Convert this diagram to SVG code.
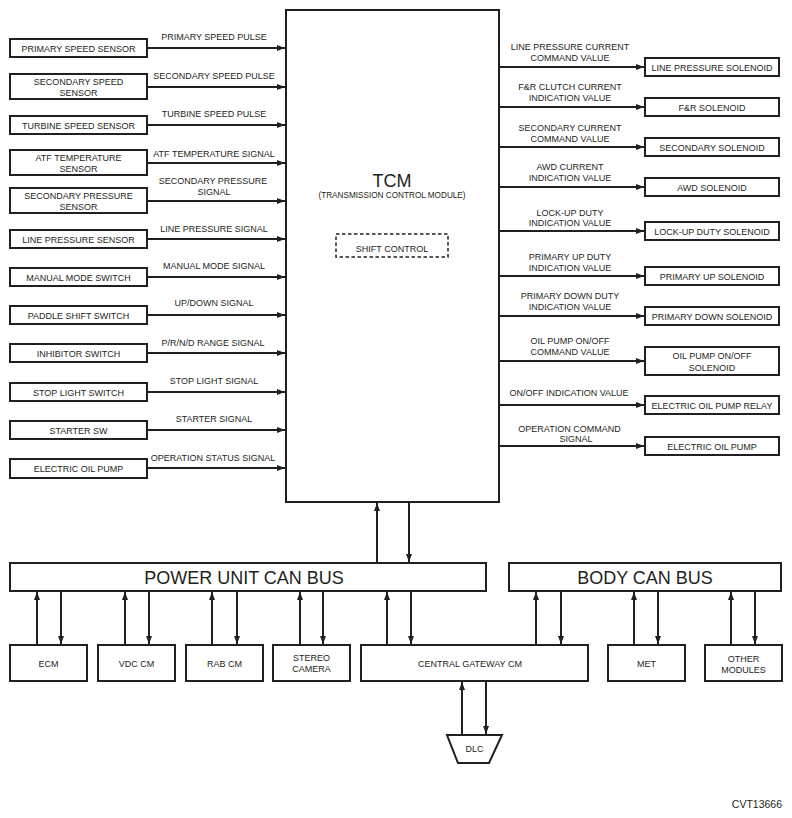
<svg xmlns="http://www.w3.org/2000/svg" width="792" height="818" viewBox="0 0 792 818">
<style>
.box{fill:#fff;stroke:#231f20;stroke-width:2}
.dash{fill:none;stroke:#231f20;stroke-width:1.5;stroke-dasharray:3.5 2.5}
.ln{fill:none;stroke:#231f20;stroke-width:2;marker-end:url(#ah)}
text{font-family:"Liberation Sans",Arial,sans-serif;font-size:9px;fill:#231f20;text-anchor:middle}
.big{font-size:18px}
.tcm{font-size:18px}
.sub{font-size:8.2px}
.code{font-size:10.5px;text-anchor:end}
</style>
<defs>
<marker id="ah" viewBox="0 0 8 6" refX="8" refY="3" markerWidth="8" markerHeight="6" markerUnits="userSpaceOnUse" orient="auto">
<path d="M0,0 L8,3 L0,6 z" fill="#231f20"/>
</marker>
</defs>

<g id="tcm">
<rect class="box" x="286" y="10" width="213" height="492"/>
<text class="tcm" x="392" y="187">TCM</text>
<text class="sub" x="392" y="198">(TRANSMISSION CONTROL MODULE)</text>
<rect class="dash" x="336" y="234" width="112" height="23"/>
<text x="392" y="252">SHIFT CONTROL</text>
</g>

<g id="inputs">
<g id="primary-speed-sensor"><rect class="box" x="10" y="39" width="137" height="18"/><text x="78.5" y="51.5">PRIMARY SPEED SENSOR</text></g>
<g id="secondary-speed-sensor"><rect class="box" x="10" y="74" width="137" height="25"/><text x="78.5" y="84.5">SECONDARY SPEED</text><text x="78.5" y="95.5">SENSOR</text></g>
<g id="turbine-speed-sensor"><rect class="box" x="10" y="116" width="137" height="18"/><text x="78.5" y="128.5">TURBINE SPEED SENSOR</text></g>
<g id="atf-temperature-sensor"><rect class="box" x="10" y="150" width="137" height="25"/><text x="78.5" y="160.5">ATF TEMPERATURE</text><text x="78.5" y="171.5">SENSOR</text></g>
<g id="secondary-pressure-sensor"><rect class="box" x="10" y="188" width="137" height="25"/><text x="78.5" y="198.5">SECONDARY PRESSURE</text><text x="78.5" y="209.5">SENSOR</text></g>
<g id="line-pressure-sensor"><rect class="box" x="10" y="230" width="137" height="18"/><text x="78.5" y="242.5">LINE PRESSURE SENSOR</text></g>
<g id="manual-mode-switch"><rect class="box" x="10" y="268" width="137" height="18"/><text x="78.5" y="280.5">MANUAL MODE SWITCH</text></g>
<g id="paddle-shift-switch"><rect class="box" x="10" y="306" width="137" height="18"/><text x="78.5" y="318.5">PADDLE SHIFT SWITCH</text></g>
<g id="inhibitor-switch"><rect class="box" x="10" y="344" width="137" height="18"/><text x="78.5" y="356.5">INHIBITOR SWITCH</text></g>
<g id="stop-light-switch"><rect class="box" x="10" y="383" width="137" height="18"/><text x="78.5" y="395.5">STOP LIGHT SWITCH</text></g>
<g id="starter-sw"><rect class="box" x="10" y="421" width="137" height="18"/><text x="78.5" y="433.5">STARTER SW</text></g>
<g id="electric-oil-pump-in"><rect class="box" x="10" y="459" width="137" height="19"/><text x="78.5" y="472">ELECTRIC OIL PUMP</text></g>
</g>

<g id="outputs">
<g id="line-pressure-solenoid"><rect class="box" x="645" y="58" width="134" height="18"/><text x="712" y="70.5">LINE PRESSURE SOLENOID</text></g>
<g id="fr-solenoid"><rect class="box" x="645" y="98" width="134" height="18"/><text x="712" y="110.5">F&amp;R SOLENOID</text></g>
<g id="secondary-solenoid"><rect class="box" x="645" y="138" width="134" height="18"/><text x="712" y="150.5">SECONDARY SOLENOID</text></g>
<g id="awd-solenoid"><rect class="box" x="645" y="178" width="134" height="18"/><text x="712" y="190.5">AWD SOLENOID</text></g>
<g id="lock-up-duty-solenoid"><rect class="box" x="645" y="222" width="134" height="18"/><text x="712" y="234.5">LOCK-UP DUTY SOLENOID</text></g>
<g id="primary-up-solenoid"><rect class="box" x="645" y="267" width="134" height="18"/><text x="712" y="279.5">PRIMARY UP SOLENOID</text></g>
<g id="primary-down-solenoid"><rect class="box" x="645" y="307" width="134" height="18"/><text x="712" y="319.5">PRIMARY DOWN SOLENOID</text></g>
<g id="oil-pump-onoff-solenoid"><rect class="box" x="645" y="347" width="134" height="28"/><text x="712" y="359">OIL PUMP ON/OFF</text><text x="712" y="370.5">SOLENOID</text></g>
<g id="electric-oil-pump-relay"><rect class="box" x="645" y="396" width="134" height="18"/><text x="712" y="408.5">ELECTRIC OIL PUMP RELAY</text></g>
<g id="electric-oil-pump-out"><rect class="box" x="645" y="437" width="134" height="18"/><text x="712" y="449.5">ELECTRIC OIL PUMP</text></g>
</g>

<g id="buses">
<g id="power-unit-can-bus"><rect class="box" x="10" y="563" width="476" height="28"/><text class="big" x="244" y="584">POWER UNIT CAN BUS</text></g>
<g id="body-can-bus"><rect class="box" x="509" y="563" width="272" height="28"/><text class="big" x="645" y="584">BODY CAN BUS</text></g>
</g>

<g id="modules">
<g id="ecm"><rect class="box" x="10" y="645" width="77" height="36"/><text x="48.5" y="666.5">ECM</text></g>
<g id="vdc-cm"><rect class="box" x="98" y="645" width="77" height="36"/><text x="136.5" y="666.5">VDC CM</text></g>
<g id="rab-cm"><rect class="box" x="186" y="645" width="77" height="36"/><text x="224.5" y="666.5">RAB CM</text></g>
<g id="stereo-camera"><rect class="box" x="273" y="645" width="77" height="36"/><text x="311.5" y="660.5">STEREO</text><text x="311.5" y="671.5">CAMERA</text></g>
<g id="central-gateway-cm"><rect class="box" x="361" y="645" width="227" height="36"/><text x="470" y="666.5">CENTRAL GATEWAY CM</text></g>
<g id="met"><rect class="box" x="608" y="645" width="77" height="36"/><text x="646.5" y="666.5">MET</text></g>
<g id="other-modules"><rect class="box" x="705" y="645" width="77" height="36"/><text x="743.5" y="661.5">OTHER</text><text x="743.5" y="672.5">MODULES</text></g>
<g id="dlc"><path class="box" d="M447,735 L502,735 L489,763 L458,763 Z"/><text x="474.5" y="752">DLC</text></g>
</g>

<g id="connectors">
<path class="ln" d="M147,48 H285"/>
<path class="ln" d="M147,87 H285"/>
<path class="ln" d="M147,125 H285"/>
<path class="ln" d="M147,163 H285"/>
<path class="ln" d="M147,201 H285"/>
<path class="ln" d="M147,239 H285"/>
<path class="ln" d="M147,277 H285"/>
<path class="ln" d="M147,315 H285"/>
<path class="ln" d="M147,353 H285"/>
<path class="ln" d="M147,392 H285"/>
<path class="ln" d="M147,430 H285"/>
<path class="ln" d="M147,468 H285"/>

<path class="ln" d="M499,67 H644"/>
<path class="ln" d="M499,107 H644"/>
<path class="ln" d="M499,147 H644"/>
<path class="ln" d="M499,187 H644"/>
<path class="ln" d="M499,231 H644"/>
<path class="ln" d="M499,276 H644"/>
<path class="ln" d="M499,316 H644"/>
<path class="ln" d="M499,361 H644"/>
<path class="ln" d="M499,405 H644"/>
<path class="ln" d="M499,446 H644"/>

<path class="ln" d="M377,563 V503"/>
<path class="ln" d="M409,502 V562"/>

<path class="ln" d="M37,645 V592"/>
<path class="ln" d="M61,591 V644"/>
<path class="ln" d="M125,645 V592"/>
<path class="ln" d="M149,591 V644"/>
<path class="ln" d="M212,645 V592"/>
<path class="ln" d="M237,591 V644"/>
<path class="ln" d="M300,645 V592"/>
<path class="ln" d="M323,591 V644"/>
<path class="ln" d="M387,645 V592"/>
<path class="ln" d="M411,591 V644"/>
<path class="ln" d="M536,645 V592"/>
<path class="ln" d="M561,591 V644"/>
<path class="ln" d="M634,645 V592"/>
<path class="ln" d="M658,591 V644"/>
<path class="ln" d="M731,645 V592"/>
<path class="ln" d="M755,591 V644"/>
<path class="ln" d="M462,735 V682"/>
<path class="ln" d="M486,681 V734"/>
</g>

<g id="connector-labels">
<text x="214" y="40">PRIMARY SPEED PULSE</text>
<text x="214" y="79">SECONDARY SPEED PULSE</text>
<text x="214" y="117">TURBINE SPEED PULSE</text>
<text x="214" y="157">ATF TEMPERATURE SIGNAL</text>
<text x="213" y="184">SECONDARY PRESSURE</text>
<text x="214" y="195">SIGNAL</text>
<text x="214" y="232">LINE PRESSURE SIGNAL</text>
<text x="214" y="269">MANUAL MODE SIGNAL</text>
<text x="214" y="306">UP/DOWN SIGNAL</text>
<text x="213" y="346">P/R/N/D RANGE SIGNAL</text>
<text x="214" y="384">STOP LIGHT SIGNAL</text>
<text x="214" y="422">STARTER SIGNAL</text>
<text x="213" y="461">OPERATION STATUS SIGNAL</text>

<text x="570" y="50">LINE PRESSURE CURRENT</text>
<text x="570" y="60.5">COMMAND VALUE</text>
<text x="570" y="90">F&amp;R CLUTCH CURRENT</text>
<text x="570" y="100.5">INDICATION VALUE</text>
<text x="570" y="131">SECONDARY CURRENT</text>
<text x="570" y="141.5">COMMAND VALUE</text>
<text x="570" y="170">AWD CURRENT</text>
<text x="570" y="180.5">INDICATION VALUE</text>
<text x="570" y="215.5">LOCK-UP DUTY</text>
<text x="570" y="226">INDICATION VALUE</text>
<text x="570" y="260">PRIMARY UP DUTY</text>
<text x="570" y="271">INDICATION VALUE</text>
<text x="570" y="299">PRIMARY DOWN DUTY</text>
<text x="570" y="310">INDICATION VALUE</text>
<text x="570" y="344">OIL PUMP ON/OFF</text>
<text x="570" y="355">COMMAND VALUE</text>
<text x="569" y="396">ON/OFF INDICATION VALUE</text>
<text x="569.5" y="431.5">OPERATION COMMAND</text>
<text x="576" y="442">SIGNAL</text>
</g>

<text class="code" x="782" y="808">CVT13666</text>
</svg>
